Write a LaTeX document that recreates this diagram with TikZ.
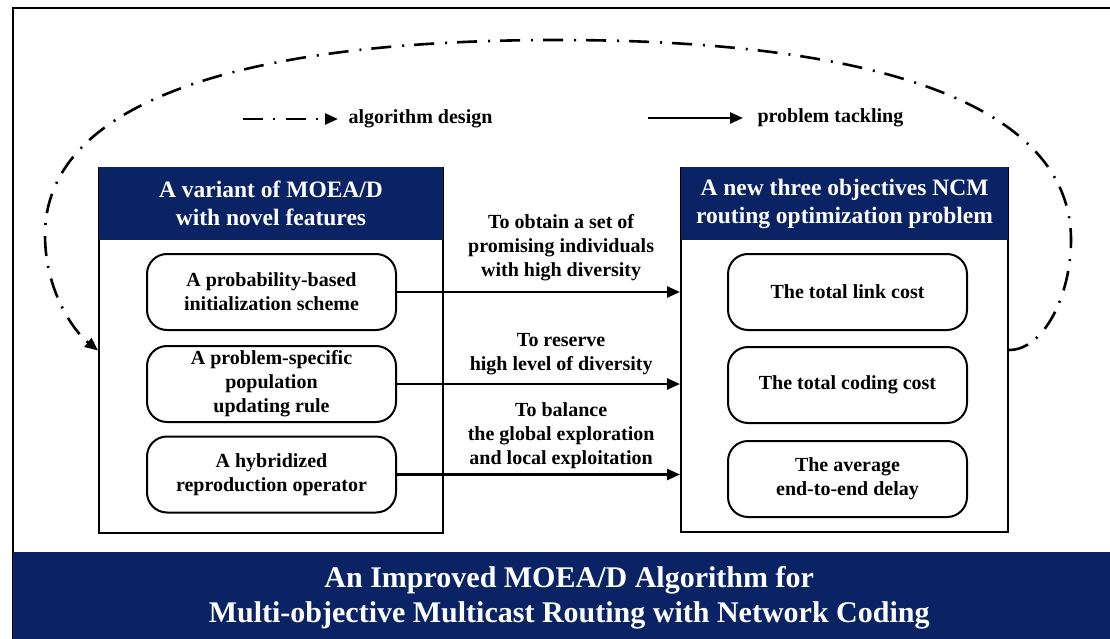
\documentclass[tikz,border=0pt]{standalone}
\usepackage{fontspec}
\setmainfont{Liberation Serif}
\usetikzlibrary{arrows.meta, positioning}
\definecolor{titleblue}{RGB}{10, 35, 100}

\begin{document}
\begin{tikzpicture}[x=1pt, y=-1pt,
    bigbox/.style={draw, line width=2pt, inner sep=0pt},
    headbox/.style={fill=titleblue, text=white, inner sep=0pt, align=center, font=\fontsize{23.5}{28}\selectfont\bfseries},
    featbox/.style={draw, line width=2pt, rounded corners=20pt, minimum height=76pt, inner sep=0pt, align=center, font=\fontsize{20}{24}\selectfont\bfseries},
    arrowtext/.style={align=center, font=\fontsize{20}{24}\selectfont\bfseries},
    tackle/.style={-{Triangle[length=13pt,width=11pt]}, line width=2.5pt},
    design/.style={-{Triangle[length=13pt,width=11pt]}, line width=2.6pt, dash pattern=on 20pt off 10pt on 2pt off 11pt}
]
        \useasboundingbox (0,0) rectangle (1110,639);
        \clip (0,0) rectangle (1110,639);
        \fill[white] (0,0) rectangle (1110,639);

        % Outer frame
        \draw[line width=2.4pt] (13,650) -- (13,8) -- (1125,8);

        % Legend
        \coordinate (designstart) at (243,119);
        \node[arrowtext, anchor=west] (designtext) at (345,119) {algorithm design};
        \draw[design, shorten >=7pt] (designstart) -- (designtext.west);
        \coordinate (tacklestart) at (648,118);
        \node[arrowtext, anchor=west] (tackletext) at (754,118) {problem tackling};
        \draw[tackle, shorten >=11pt] (tacklestart) -- (tackletext.west);

        % The two big boxes
        \node[bigbox, minimum width=344pt, minimum height=365pt] (variant) at (271,350.5) {};
        \node[bigbox, minimum width=327pt, minimum height=364pt] (problem) at (844.5,350) {};
        \node[headbox, minimum width=344pt, minimum height=73pt, anchor=north] (varianthead) at (variant.north) {A variant of MOEA/D\\with novel features};
        \node[headbox, minimum width=327pt, minimum height=73pt, anchor=north] (problemhead) at (problem.north) {A new three objectives NCM\\routing optimization problem};

        % Features of the algorithm
        \node[featbox, minimum width=249pt] (init) at (271.5,292) {A probability-based\\initialization scheme};
        \node[featbox, minimum width=249pt] (update) at (271.5,384) {A problem-specific\\population\\updating rule};
        \node[featbox, minimum width=249pt] (hybrid) at (271.5,474.5) {A hybridized\\reproduction operator};

        % Objectives of the problem
        \node[featbox, minimum width=239pt] (linkcost) at (847.5,292) {The total link cost};
        \node[featbox, minimum width=239pt] (codingcost) at (847.5,385) {The total coding cost};
        \node[featbox, minimum width=239pt] (delay) at (847.5,479) {The average\\end-to-end delay};

        % Problem tackling arrows
        \draw[tackle] (init.east) -- (init.east -| problem.west)
            node[arrowtext, pos=.58, above=7pt] (obtainlabel) {To obtain a set of\\promising individuals\\with high diversity};
        \draw[tackle] (update.east) -- (update.east -| problem.west)
            node[arrowtext, pos=.58, above=4.5pt] (reservelabel) {To reserve\\high level of diversity};
        \draw[tackle] (hybrid.east) -- (hybrid.east -| problem.west)
            node[arrowtext, pos=.58, above=1pt] (balancelabel) {To balance\\the global exploration\\and local exploitation};

        % Algorithm design loop
        \draw[design] (problem.east) .. controls +(35,0) and +(0,55) .. (1071,240)
            .. controls +(0,-130) and +(333,0) .. (558,40)
            .. controls +(-333,0) and +(0,-127) .. (45,235)
            .. controls +(0,55) and +(-25,-20) .. (variant.west);

        % Title banner
        \node[fill=titleblue, text=white, anchor=north west, minimum width=1112pt, minimum height=91pt, inner sep=0pt, align=center, font=\fontsize{30}{35}\selectfont\bfseries] (title) at (13,552) {An Improved MOEA/D Algorithm for\\Multi-objective Multicast Routing with Network Coding};
    \end{tikzpicture}
\end{document}
